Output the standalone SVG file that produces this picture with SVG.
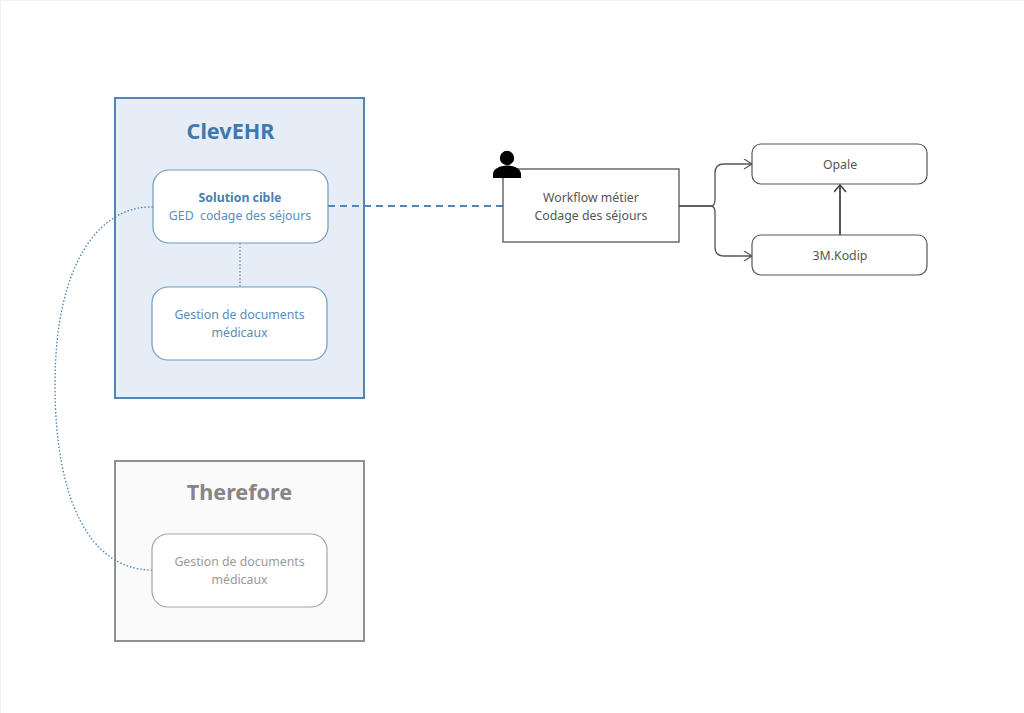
<svg xmlns="http://www.w3.org/2000/svg" width="1024" height="713" viewBox="0 0 1024 713">
<style>
text{font-family:"Noto Sans","Open Sans",sans-serif;text-anchor:middle;white-space:pre}
.b{fill:#5a8dba;font-size:12.3px}
.g{fill:#9a9a9a;font-size:12.3px}
.k{fill:#555;font-size:12.3px}
.n{fill:none;stroke:#555;stroke-width:1.3}
.w{fill:#fff;stroke:#6f9cc2;stroke-width:1.2}
</style>
<defs><marker id="a" markerWidth="12" markerHeight="12" refX="9" refY="5" orient="auto" markerUnits="userSpaceOnUse"><path d="M1 0L9 5L1 10" fill="none" stroke="#555" stroke-width="1.2"/></marker>
<marker id="c" markerWidth="14" markerHeight="14" refX="8" refY="6" orient="auto" markerUnits="userSpaceOnUse"><path d="M1 0L8 6L1 12" fill="none" stroke="#444" stroke-width="1.6"/></marker></defs>
<rect width="1024" height="713" fill="#fff"/>
<path d="M0.500 713V0.500H1024" fill="none" stroke="#f2f2f2"/>
<g id="clevehr"><rect x="115" y="98" width="249" height="300" fill="#e6edf7" stroke="#4f86b6" stroke-width="2"/><text x="230.500" y="139" style="font-size:21.6px;font-weight:700;fill:#4079ad">ClevEHR</text></g>
<g id="therefore"><rect x="115" y="461" width="249" height="180" fill="#fafafa" stroke="#909090" stroke-width="2"/><text x="239.500" y="500" style="font-size:21.6px;font-weight:700;fill:#868686">Therefore</text></g>
<g id="connectors">
<path d="M240 243V287" fill="none" stroke="#5a8dba" stroke-width="1.4" stroke-dasharray="1.5 2"/>
<path d="M153 207C105 205 55 255 55 385C55 500 90 570 152 570" fill="none" stroke="#4f86b6" stroke-width="1.4" stroke-dasharray="1.5 2"/>
<path d="M328 206H503" fill="none" stroke="#4f86b6" stroke-width="2" stroke-dasharray="7 5"/>
<path class="n" d="M679 206H711C714 206 715 203 715 199V173C715 167 718 164 724 164H752" marker-end="url(#a)"/>
<path class="n" d="M679 206H711C714 206 715 209 715 213V247C715 253 718 256 724 256H752" marker-end="url(#a)"/>
<path d="M840 235V185" fill="none" stroke="#444" stroke-width="1.8" marker-end="url(#c)"/>
</g>
<g id="solution"><rect class="w" x="153" y="170" width="175" height="73" rx="16"/><text class="b" x="240" y="202" style="font-weight:700;fill:#4a7fae">Solution cible</text><text class="b" x="240" y="220">GED  codage des séjours</text></g>
<g id="gestion1"><rect class="w" x="152" y="287" width="175" height="73" rx="16"/><text class="b" x="239.500" y="319">Gestion de documents</text><text class="b" x="239.500" y="337">médicaux</text></g>
<g id="gestion2"><rect x="152" y="534" width="175" height="73" rx="16" fill="#fff" stroke="#a5a5a5" stroke-width="1.2"/><text class="g" x="239.500" y="566">Gestion de documents</text><text class="g" x="239.500" y="584">médicaux</text></g>
<g id="workflow"><rect x="503" y="169" width="176" height="73" fill="#fff" stroke="#555" stroke-width="1.3"/><text class="k" x="591" y="202">Workflow métier</text><text class="k" x="591" y="220">Codage des séjours</text>
<circle cx="507" cy="158" r="7.2" fill="#000"/><path d="M493 178V174C493 169 500 165.500 507 165.500C514 165.500 521 169 521 174V178Z" fill="#000"/></g>
<g id="opale"><rect x="752" y="144" width="175" height="40" rx="9" fill="#fff" stroke="#555" stroke-width="1.2"/><text class="k" x="840" y="169">Opale</text></g>
<g id="kodip"><rect x="752" y="235" width="175" height="40" rx="9" fill="#fff" stroke="#555" stroke-width="1.2"/><text class="k" x="840" y="260">3M.Kodip</text></g>
</svg>
